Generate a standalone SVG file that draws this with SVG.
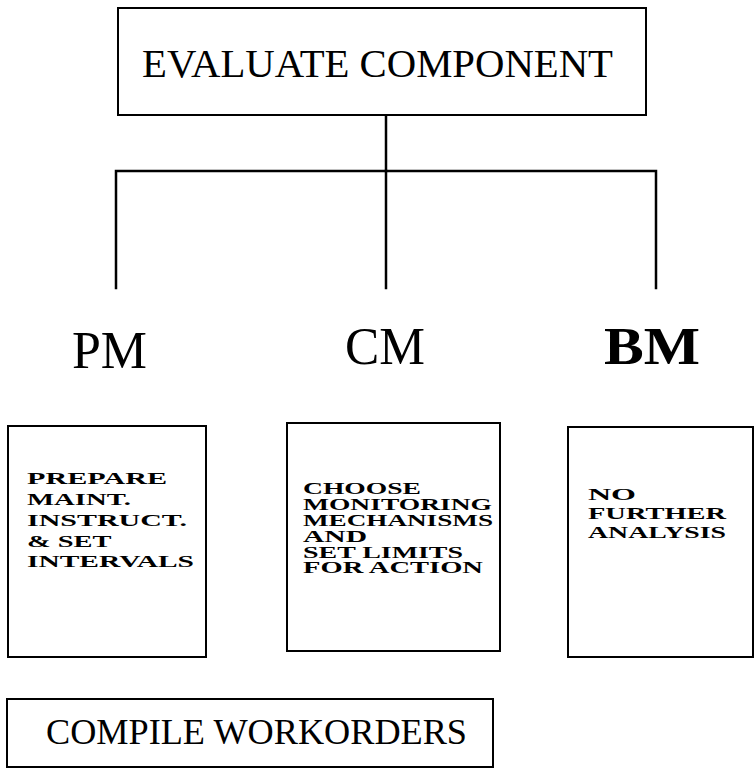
<svg xmlns="http://www.w3.org/2000/svg" width="756" height="769" viewBox="0 0 756 769">
  <style>
    .box { fill: #fff; stroke: #000; stroke-width: 2; }
    .wire { fill: none; stroke: #000; stroke-width: 2.5; stroke-linecap: square; }
    .title { font-family: "Liberation Serif", "Times New Roman", serif; fill: #000; }
    .head { font-family: "Liberation Serif", "Times New Roman", serif; font-size: 52px; fill: #000; }
    .body { font-family: "Liberation Serif", "Times New Roman", serif; font-weight: bold; font-size: 17px; fill: #000; }
  </style>
  <rect width="756" height="769" fill="#fff"/>

  <!-- tree connectors from the root box to the three branches -->
  <g id="connectors">
    <path class="wire" d="M386 115 V171"/>
    <path class="wire" d="M116 288 V171 H656 V288"/>
    <path class="wire" d="M386 171 V288"/>
  </g>

  <g id="evaluate">
    <rect class="box" x="118" y="8" width="528" height="107"/>
    <text class="title" x="142" y="77" font-size="40" textLength="471" lengthAdjust="spacingAndGlyphs">EVALUATE COMPONENT</text>
  </g>

  <g id="pm-label">
    <text class="head" x="72" y="368" textLength="75" lengthAdjust="spacingAndGlyphs">PM</text>
  </g>
  <g id="cm-label">
    <text class="head" x="345" y="364" textLength="80" lengthAdjust="spacingAndGlyphs">CM</text>
  </g>
  <g id="bm-label">
    <text class="head" x="604" y="364" font-weight="bold" textLength="96" lengthAdjust="spacingAndGlyphs">BM</text>
  </g>

  <g id="pm-box">
    <rect class="box" x="8" y="426" width="198" height="231"/>
    <text class="body" font-size="18">
      <tspan x="27" y="484" textLength="140" lengthAdjust="spacingAndGlyphs">PREPARE</tspan>
      <tspan x="27" y="505" textLength="104" lengthAdjust="spacingAndGlyphs">MAINT.</tspan>
      <tspan x="27" y="526" textLength="160" lengthAdjust="spacingAndGlyphs">INSTRUCT.</tspan>
      <tspan x="27" y="547" textLength="84" lengthAdjust="spacingAndGlyphs">&amp; SET</tspan>
      <tspan x="27" y="567" textLength="167" lengthAdjust="spacingAndGlyphs">INTERVALS</tspan>
    </text>
  </g>

  <g id="cm-box">
    <rect class="box" x="287" y="423" width="213" height="228"/>
    <text class="body">
      <tspan x="303" y="494" textLength="118" lengthAdjust="spacingAndGlyphs">CHOOSE</tspan>
      <tspan x="303" y="510" textLength="189" lengthAdjust="spacingAndGlyphs">MONITORING</tspan>
      <tspan x="303" y="526" textLength="190" lengthAdjust="spacingAndGlyphs">MECHANISMS</tspan>
      <tspan x="303" y="542" textLength="64" lengthAdjust="spacingAndGlyphs">AND</tspan>
      <tspan x="303" y="558" textLength="160" lengthAdjust="spacingAndGlyphs">SET LIMITS</tspan>
      <tspan x="303" y="573" textLength="180" lengthAdjust="spacingAndGlyphs">FOR ACTION</tspan>
    </text>
  </g>

  <g id="bm-box">
    <rect class="box" x="568" y="427" width="185" height="230"/>
    <text class="body">
      <tspan x="588" y="500" textLength="48" lengthAdjust="spacingAndGlyphs">NO</tspan>
      <tspan x="588" y="519" textLength="138" lengthAdjust="spacingAndGlyphs">FURTHER</tspan>
      <tspan x="588" y="538" textLength="138" lengthAdjust="spacingAndGlyphs">ANALYSIS</tspan>
    </text>
  </g>

  <g id="compile">
    <rect class="box" x="7" y="699" width="486" height="68"/>
    <text class="title" x="46" y="744" font-size="35" textLength="421" lengthAdjust="spacingAndGlyphs">COMPILE WORKORDERS</text>
  </g>
</svg>
